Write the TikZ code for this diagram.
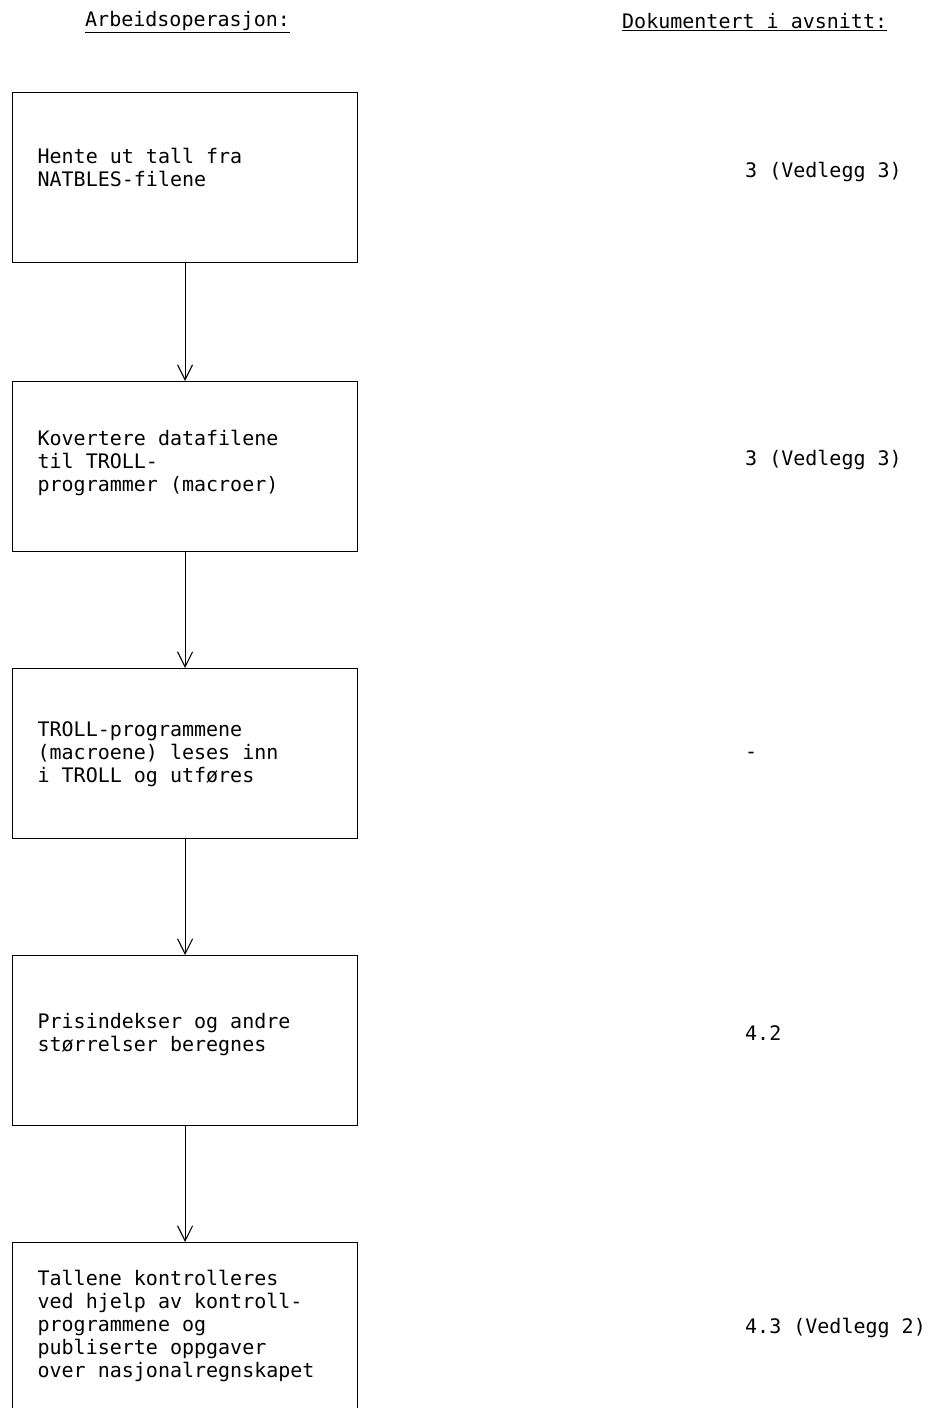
\documentclass[tikz,border=0pt]{standalone}
\usepackage{fontspec}
\setmonofont{DejaVu Sans Mono}
\usetikzlibrary{arrows.meta}
\usetikzlibrary{positioning}

\begin{document}
\begin{tikzpicture}[x=1pt, y=-1pt,
    font=\ttfamily\fontsize{20}{23}\selectfont,
    every node/.style={inner sep=0pt},
    opbox/.style 2 args={draw, line width=1.2pt, anchor=north west, minimum width=345pt,
        minimum height=170pt, text width=295pt, inner xsep=25pt, align=left,
        text height=#1, text depth=#2, execute at begin node={\spaceskip=0pt\relax}},
    doc/.style={anchor=west},
    flow/.style={line width=1.1pt, -{Straight Barb[length=15pt, width=15pt]}}]
    \useasboundingbox (0,0) rectangle (930,1408);
    \clip (0,0) rectangle (930,1408);

    % column headings
    \node[doc] (headop) at (85,22) {\underline{Arbeidsoperasjon:}};
    \node[doc] (headdoc) at (622,22) {\underline{Dokumentert i avsnitt:}};

    % work operations
    \node[opbox={71pt}{99pt}] (op1) at (12,92) {Hente ut tall fra\\NATBLES-filene};
    \node[opbox={64pt}{106pt}] (op2) at (12,381) {Kovertere datafilene\\til TROLL-\\programmer (macroer)};
    \node[opbox={68pt}{102pt}] (op3) at (12,668) {TROLL-programmene\\(macroene) leses inn\\i TROLL og utføres};
    \node[opbox={73pt}{97pt}] (op4) at (12,955) {Prisindekser og andre\\størrelser beregnes};
    \node[opbox={43pt}{127pt}] (op5) at (12,1242) {Tallene kontrolleres\\ved hjelp av kontroll-\\programmene og\\publiserte oppgaver\\over nasjonalregnskapet};

    \foreach \a/\b in {op1/op2, op2/op3, op3/op4, op4/op5} {
        \draw[flow] (\a) -- (\b);
    }

    % where it is documented
    \node[doc] (doc1) at (745,172) {3 (Vedlegg 3)};
    \node[doc] (doc2) at (745,460) {3 (Vedlegg 3)};
    \node[doc] (doc3) at (745,755) {-};
    \node[doc] (doc4) at (745,1033) {4.2};
    \node[doc] (doc5) at (745,1328) {4.3 (Vedlegg 2)};
\end{tikzpicture}
\end{document}
